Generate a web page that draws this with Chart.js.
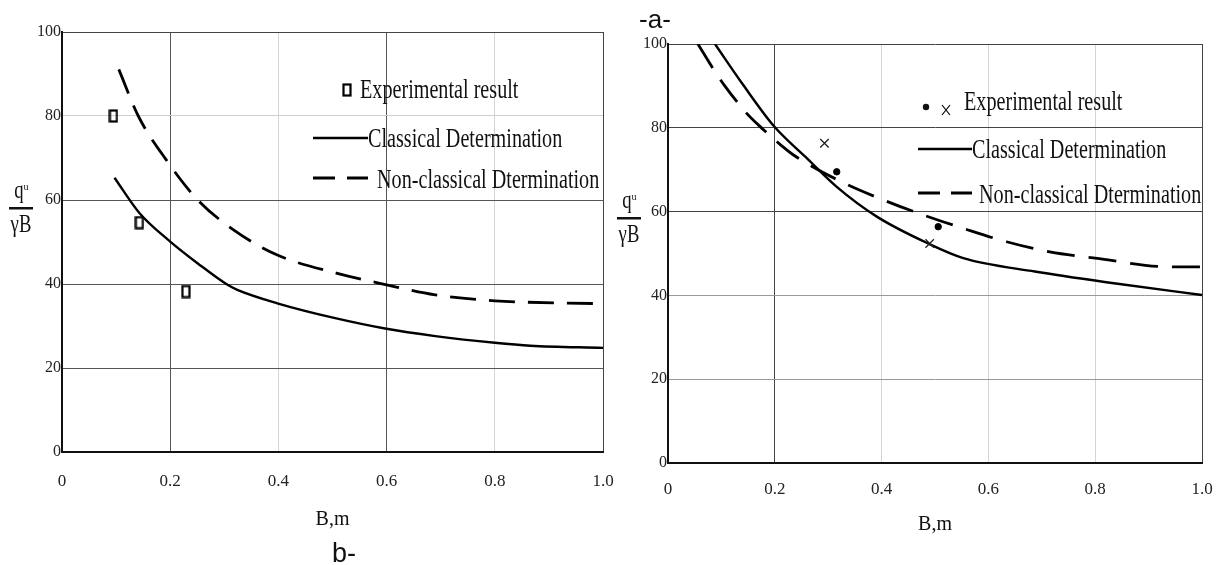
<!DOCTYPE html>
<html>
<head>
<meta charset="utf-8">
<script src="https://cdn.jsdelivr.net/npm/chart.js@4"></script>
<style>
  body { margin: 0; background: #fff; width: 1226px; height: 565px; overflow: hidden; position: relative; }
  canvas { position: absolute; top: 0; }
  #chartB { left: 0; z-index: 1; }
  #chartA { left: 606px; }
  .cap { position: absolute; font-family: 'Liberation Sans', Arial, sans-serif; color: #111; line-height: 26px; text-align: center; width: 60px; z-index: 2; }
</style>
</head>
<body>
<canvas id="chartB" width="636" height="565"></canvas>
<canvas id="chartA" width="626" height="565"></canvas>
<div class="cap" style="left:625px; top:6px; font-size:26px;">-a-</div>
<div class="cap" style="left:314px; top:540px; font-size:27px;">b-</div>
<script>
// ---- datos ----
const xTickLabels = ['0', '0.2', '0.4', '0.6', '0.8', '1.0'];
const yTickLabels = ['0', '20', '40', '60', '80', '100'];
const xTitle = 'B,m';
const legendLabels = ['Experimental result', 'Classical Determination', 'Non-classical Dtermination'];

// grafico b- (izquierda)
const bExpX = [0.095, 0.143, 0.229];
const bExpY = [80, 54.6, 38.2];
const bClassX = [0.097, 0.143, 0.2, 0.251, 0.306, 0.324, 0.398, 0.507, 0.597, 0.69, 0.8, 0.866, 1.0];
const bClassY = [65.3, 56.9, 50.1, 44.9, 39.8, 38.6, 35.4, 31.8, 29.4, 27.6, 26.0, 25.3, 24.8];
const bNonX = [0.105, 0.141, 0.193, 0.251, 0.317, 0.398, 0.507, 0.6, 0.69, 0.8, 1.0];
const bNonY = [91.1, 80, 69.5, 60, 52.9, 46.9, 42.6, 39.8, 37.4, 36.0, 35.3];

// grafico -a- (derecha)
const aDotX = [0.316, 0.506];
const aDotY = [69.5, 56.4];
const aCrossX = [0.293, 0.49];
const aCrossY = [76.3, 52.4];
const aClassX = [0.088, 0.141, 0.199, 0.257, 0.316, 0.391, 0.487, 0.553, 0.687, 0.835, 1.0];
const aClassY = [100, 90.2, 80.3, 73.1, 65.9, 58.8, 52.4, 48.9, 45.7, 42.9, 40.1];
const aNonX = [0.056, 0.088, 0.107, 0.147, 0.169, 0.213, 0.235, 0.325, 0.403, 0.478, 0.553, 0.634, 0.715, 0.8, 0.942, 1.0];
const aNonY = [100, 93.4, 89.9, 83.5, 80.7, 75.7, 73.5, 67.1, 62.8, 59.2, 56.0, 52.8, 50.4, 48.9, 46.8, 46.8];

const puntos = (xs, ys) => xs.map((x, i) => ({ x: x, y: ys[i] }));
const SERIF = "'Liberation Serif', 'Times New Roman', serif";

// marcador rectangular (un poco alargado como en la figura)
const cajita = document.createElement('canvas');
cajita.width = 10; cajita.height = 14;
(() => {
    const c = cajita.getContext('2d');
    c.lineWidth = 2.2;
    c.strokeStyle = '#000';
    c.strokeRect(1.5, 1.5, 7, 11);
})();

// leyenda dentro del area, texto comprimido
const leyendaPlugin = {
    id: 'leyendaInterna',
    afterDatasetsDraw(chart, args, opts) {
        const ctx = chart.ctx;
        ctx.save();
        ctx.fillStyle = '#111';
        ctx.strokeStyle = '#000';
        ctx.font = '28px ' + SERIF;
        ctx.textBaseline = 'alphabetic';
        const texto = (t, x, y) => {
            ctx.save();
            ctx.translate(x, y);
            ctx.scale(0.72, 1);
            ctx.fillText(t, 0, 0);
            ctx.restore();
        };
        // fila 1: marcadores experimentales
        const f1 = opts.fila1;
        if (opts.tipo === 'b') {
            ctx.drawImage(cajita, f1.mx - 5, f1.my - 7);
        } else {
            ctx.beginPath();
            ctx.arc(f1.mx, f1.my, 3.2, 0, Math.PI * 2);
            ctx.fill();
            ctx.lineWidth = 1.2;
            ctx.beginPath();
            ctx.moveTo(f1.cx - 4, f1.cy - 5); ctx.lineTo(f1.cx + 4, f1.cy + 5);
            ctx.moveTo(f1.cx + 4, f1.cy - 5); ctx.lineTo(f1.cx - 4, f1.cy + 5);
            ctx.stroke();
        }
        texto(legendLabels[0], f1.tx, f1.ty);
        // fila 2: linea continua
        const f2 = opts.fila2;
        ctx.lineWidth = 2.6;
        ctx.beginPath();
        ctx.moveTo(f2.x0, f2.y); ctx.lineTo(f2.x1, f2.y);
        ctx.stroke();
        texto(legendLabels[1], f2.x1, f2.y + 9);
        // fila 3: linea discontinua
        const f3 = opts.fila3;
        ctx.lineWidth = 3;
        ctx.beginPath();
        ctx.moveTo(f3.x0, f3.y); ctx.lineTo(f3.x0 + 22, f3.y);
        ctx.moveTo(f3.x1 - 21, f3.y); ctx.lineTo(f3.x1, f3.y);
        ctx.stroke();
        texto(legendLabels[2], f3.tx, f3.y + 10);
        ctx.restore();
    }
};

// titulo del eje y como fraccion  q_u / γB
const tituloYPlugin = {
    id: 'tituloY',
    afterDraw(chart, args, opts) {
        const ctx = chart.ctx;
        const cx = opts.cx, by = opts.barY;
        ctx.save();
        ctx.fillStyle = '#111';
        ctx.textAlign = 'center';
        ctx.font = '26px ' + SERIF;
        ctx.save();
        ctx.translate(cx - 2, by - 10);
        ctx.scale(0.72, 1);
        ctx.fillText('q', 0, 0);
        ctx.restore();
        ctx.font = '10px ' + SERIF;
        ctx.fillText('u', cx + 5, by - 18);
        ctx.fillRect(cx - 12, by - 1, 24, 2.5);
        ctx.font = '26px ' + SERIF;
        ctx.save();
        ctx.translate(cx, by + 24);
        ctx.scale(0.72, 1);
        ctx.fillText('γB', 0, 0);
        ctx.restore();
        ctx.restore();
    }
};

const casi = (a, b) => Math.abs(a - b) < 1e-6;

function crearGrafico(id, datasets, cfg) {
    const canvas = document.getElementById(id);
    return new Chart(canvas.getContext('2d'), {
        type: 'scatter',
        data: { datasets: datasets },
        options: {
            responsive: false,
            animation: false,
            events: [],
            layout: { padding: { top: cfg.top, right: cfg.right, left: 0, bottom: 0 } },
            plugins: {
                legend: { display: false },
                tooltip: { enabled: false },
                leyendaInterna: cfg.leyenda,
                tituloY: cfg.tituloY
            },
            scales: {
                x: {
                    type: 'linear', min: 0, max: 1,
                    afterFit: s => { s.height = cfg.xAltura; },
                    ticks: {
                        stepSize: 0.2,
                        padding: cfg.xPad,
                        color: '#222',
                        font: { family: SERIF, size: 17 },
                        maxRotation: 0,
                        callback: (v, i) => xTickLabels[i]
                    },
                    grid: { drawTicks: false, lineWidth: 1, color: c => cfg.xGrid(c.tick ? c.tick.value : 0) },
                    border: { display: true, color: '#111', width: 2 },
                    title: {
                        display: true, text: xTitle, color: '#111',
                        font: { family: SERIF, size: 20 },
                        padding: { top: 0, bottom: cfg.tituloPad }
                    }
                },
                y: {
                    type: 'linear', min: 0, max: 100,
                    afterFit: s => { s.width = 62; },
                    ticks: {
                        stepSize: 20,
                        padding: 1,
                        color: '#222',
                        font: { family: SERIF, size: 16 },
                        callback: (v, i) => yTickLabels[i]
                    },
                    grid: { drawTicks: false, lineWidth: 1, color: c => cfg.yGrid(c.tick ? c.tick.value : 0) },
                    border: { display: true, color: '#111', width: 2 }
                }
            }
        },
        plugins: [leyendaPlugin, tituloYPlugin]
    });
}

const curva = (label, xs, ys, dash) => ({
    label: label,
    data: puntos(xs, ys),
    showLine: true,
    borderColor: '#000',
    borderWidth: dash ? 2.8 : 2.4,
    borderDash: dash || [],
    pointRadius: 0,
    cubicInterpolationMode: 'monotone',
    fill: false
});

// ---- grafico b- ----
crearGrafico('chartB', [
    {
        label: legendLabels[0],
        data: puntos(bExpX, bExpY),
        pointStyle: cajita,
        pointRadius: 6,
        showLine: false
    },
    curva(legendLabels[1], bClassX, bClassY),
    curva(legendLabels[2], bNonX, bNonY, [26, 13])
], {
    top: 32, right: 33, xAltura: 113, xPad: 19, tituloPad: 33,
    xGrid: v => (casi(v, 0.2) || casi(v, 0.6)) ? '#555' : casi(v, 1) ? '#444' : '#d4d4d4',
    yGrid: v => casi(v, 80) ? '#d0d0d0' : casi(v, 100) ? '#444' : '#555',
    leyenda: {
        tipo: 'b',
        fila1: { mx: 347, my: 90, tx: 360, ty: 98 },
        fila2: { x0: 313, x1: 368, y: 138 },
        fila3: { x0: 313, x1: 368, y: 178, tx: 377 }
    },
    tituloY: { cx: 21, barY: 208 }
});

// ---- grafico -a- ----
crearGrafico('chartA', [
    {
        label: legendLabels[0],
        data: puntos(aDotX, aDotY),
        pointStyle: 'circle',
        pointRadius: 3.2,
        backgroundColor: '#000',
        borderColor: '#000',
        showLine: false
    },
    {
        label: legendLabels[0],
        data: puntos(aCrossX, aCrossY),
        pointStyle: 'crossRot',
        pointRadius: 6,
        borderWidth: 1.3,
        borderColor: '#222',
        showLine: false
    },
    curva(legendLabels[1], aClassX, aClassY),
    curva(legendLabels[2], aNonX, aNonY, [28, 14])
], {
    top: 44, right: 30, xAltura: 102, xPad: 16, tituloPad: 28,
    xGrid: v => casi(v, 0.2) ? '#444' : casi(v, 1) ? '#444' : '#d4d4d4',
    yGrid: v => (casi(v, 80) || casi(v, 60)) ? '#444' : casi(v, 100) ? '#444' : '#9a9a9a',
    leyenda: {
        tipo: 'a',
        fila1: { mx: 320, my: 107, cx: 340, cy: 110, tx: 358, ty: 110 },
        fila2: { x0: 312, x1: 366, y: 149 },
        fila3: { x0: 312, x1: 366, y: 193, tx: 373 }
    },
    tituloY: { cx: 23, barY: 218 }
});
</script>
</body>
</html>
